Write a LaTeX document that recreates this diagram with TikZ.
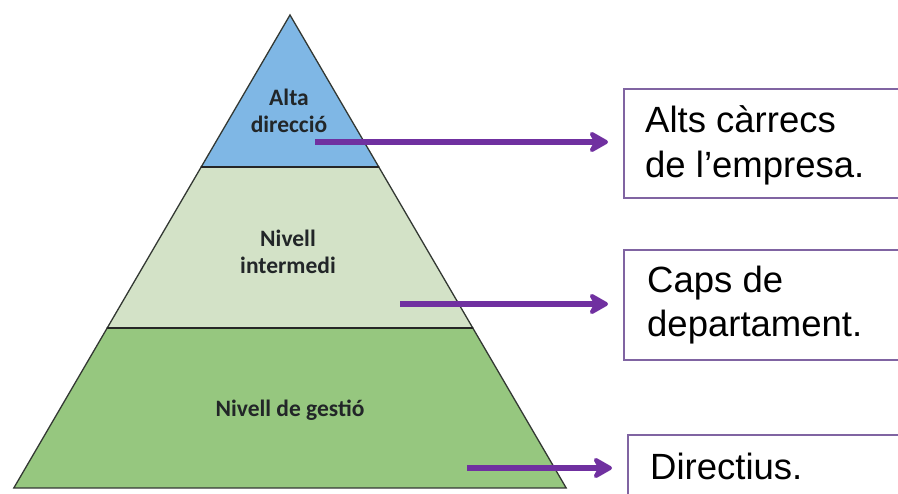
\documentclass[tikz,border=0pt]{standalone}
\usepackage{fontspec}
\setmainfont{Liberation Sans}
\newfontfamily\lblfont{Carlito}
\usetikzlibrary{arrows.meta,calc}
\definecolor{topblue}{HTML}{7FB7E5}
\definecolor{midgreen}{HTML}{D3E2C7}
\definecolor{botgreen}{HTML}{96C77F}
\definecolor{arrowpurple}{HTML}{7030A0}
\definecolor{boxpurple}{HTML}{8064A2}
\definecolor{lbltext}{HTML}{222628}
\definecolor{edgecol}{HTML}{333833}
\begin{document}
\begin{tikzpicture}[x=1pt,y=-1pt,
  band/.style={draw=edgecol,line width=1.3pt,line join=miter},
  divider/.style={draw=black!85,line width=2.6pt},
  lvl/.style={font=\lblfont\bfseries\fontsize{23.5}{27}\selectfont,text=lbltext,inner sep=0pt,anchor=base},
  infobox/.style={draw=boxpurple,line width=2.2pt,minimum width=300pt,minimum height=110pt,inner sep=0pt,anchor=north west},
  boxtext/.style={font=\fontsize{36.5}{45}\selectfont,text=black,anchor=base west,inner sep=0pt},
  link/.style={draw=arrowpurple,line width=6pt,-{Stealth[length=23pt,width=26pt,inset=7pt,round]},shorten >=15pt}
]
\useasboundingbox (0,0) rectangle (898,494);
\clip (0,0) rectangle (898,494);

% pyramid corners
\coordinate (apex) at (290,15);
\coordinate (tl) at (201.2,167);
\coordinate (tr) at (378.8,167);
\coordinate (ml) at (107.2,328);
\coordinate (mr) at (472.8,328);
\coordinate (bl) at (13.8,488);
\coordinate (br) at (566.2,488);

\filldraw[band,fill=topblue] (apex) -- (tr) -- (tl) -- cycle;
\filldraw[band,fill=midgreen] (tl) -- (tr) -- (mr) -- (ml) -- cycle;
\filldraw[band,fill=botgreen] (ml) -- (mr) -- (br) -- (bl) -- cycle;
\draw[divider] (tl) -- (tr);
\draw[divider] (ml) -- (mr);

% level labels
\node[lvl] (alta1) at (289,106) {Alta};
\node[lvl] (alta2) at (289,133) {direcció};
\node[lvl] (int1) at (288,247) {Nivell};
\node[lvl] (int2) at (288,274) {intermedi};
\node[lvl] (gest) at (290,417) {Nivell de gestió};

% boxes
\node[infobox,minimum height=109pt] (b1) at (623,88) {};
\node[infobox] (b2) at (623,249) {};
\node[infobox,minimum height=80pt] (b3) at (627,434) {};

\node[boxtext] (t1a) at ($(b1.north west)+(22,45)$) {Alts càrrecs};
\node[boxtext] (t1b) at ($(b1.north west)+(22,90)$) {de l’empresa.};
\node[boxtext] (t2a) at ($(b2.north west)+(24,44)$) {Caps de};
\node[boxtext] (t2b) at ($(b2.north west)+(24,88)$) {departament.};
\node[boxtext] (t3a) at ($(b3.north west)+(23,46)$) {Directius.};

% arrows
\coordinate (s1) at (315,142);
\coordinate (s2) at (400,304);
\coordinate (s3) at (467,468);
\draw[link] (s1) -- (s1 -| b1.west);
\draw[link] (s2) -- (s2 -| b2.west);
\draw[link] (s3) -- (s3 -| b3.west);
\end{tikzpicture}
\end{document}
